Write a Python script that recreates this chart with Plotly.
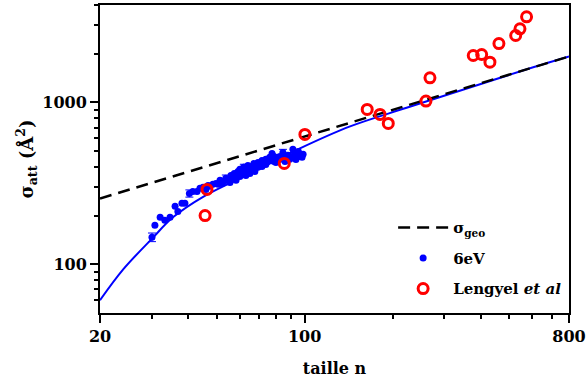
import math
import plotly.graph_objects as go

# fitted curve
fit_n = [20, 24, 30, 35.5, 45.3, 65, 96.4, 143, 223, 367, 560, 800]
fit_s = [60, 93, 143, 195, 263, 364, 520, 711, 927, 1238, 1580, 1923]

# geometric cross-section line
geo_n = [20, 800]
geo_s = [255, 1923]

# 6 eV measurements
n_6ev = [30.8, 32.1, 33.3, 34.7, 36.1, 36.9, 38.1, 39.0, 41.5, 42.9, 43.9, 45.0,
         47.5, 48.6, 49.8, 51.4, 53.0, 56.0, 56.5, 57.5, 58.3, 59.2, 60.1, 61.0,
         62.0, 63.0, 64.0, 65.0, 66.1, 67.1, 68.2, 69.3, 70.4, 71.5, 72.6, 73.7,
         74.9, 76.0, 77.4, 77.4, 78.6, 79.8, 81.0, 82.4, 86.3, 87.7, 89.0, 91.2,
         92.7, 94.0, 96.4, 98.0,
         46.0, 46.8, 50.6, 52.2, 55.6, 58.3, 60.1, 63.0, 65.0, 67.6, 69.3, 71.5,
         73.7, 78.6, 82.4, 85.7, 90.5, 95.2, 93.4, 98.8]
s_6ev = [174, 195, 187, 195, 228, 212, 238, 238, 282, 282, 295, 299,
         303, 312, 316, 330, 325, 354, 340, 364, 354, 375, 386, 370,
         397, 380, 408, 391, 402, 420, 408, 426, 408, 438, 420, 445,
         432, 458, 438, 484, 464, 426, 458, 445, 458, 471, 445, 513,
         478, 464, 464, 458,
         290, 307, 312, 316, 320, 330, 349, 354, 364, 375, 397, 402,
         414, 432, 464, 432, 464, 498, 444, 478]

# 6 eV points drawn with error bars
n_err = [30.1, 40.4, 53.8, 62.0, 84.3]
s_err = [147, 274, 340, 397, 491]
e_err = [9, 14, 16, 18, 22]

# Lengyel et al
n_len = [45.7, 46.4, 85.2, 100.2, 163.6, 180.9, 193.1, 259.7, 268, 376.7,
         402.5, 429.5, 461, 526, 544, 573]
s_len = [200, 290, 420, 634, 906, 843, 742, 1019, 1420, 1950,
         1978, 1773, 2312, 2591, 2851, 3381]

BLUE = "#0000ff"
RED = "#ff0000"
FONT = "DejaVu Serif"

fig = go.Figure()
fig.add_scatter(x=fit_n, y=fit_s, mode="lines", line=dict(color=BLUE, width=2, shape="spline"),
                showlegend=False)
fig.add_scatter(x=geo_n, y=geo_s, mode="lines", name="σ<sub>geo</sub>", legendgroup="a",
                line=dict(color="black", width=2.5, dash="12px,7px"))
fig.add_scatter(x=n_err, y=s_err, mode="markers", showlegend=False, legendgroup="b",
                marker=dict(color=BLUE, size=7),
                error_y=dict(type="data", array=e_err, color=BLUE, thickness=1, width=4))
fig.add_scatter(x=n_6ev, y=s_6ev, mode="markers", name="6eV", legendgroup="b",
                marker=dict(color=BLUE, size=7))
fig.add_scatter(x=n_len, y=s_len, mode="markers", name="Lengyel <i>et al</i>", legendgroup="c",
                marker=dict(symbol="circle-open", color=RED, size=10, line=dict(width=3, color=RED)))

axis_common = dict(showgrid=False, zeroline=False, ticks="outside", ticklen=8, tickwidth=2,
                   tickcolor="black", linecolor="black", linewidth=2, mirror=True, automargin=False,
                   tickfont=dict(family=FONT, size=16, color="black", weight="bold"))

fig.update_xaxes(type="log", range=[math.log10(20), math.log10(800)],
                 tickvals=[20, 100, 800], ticktext=["20", "100", "800"],
                 minor=dict(tickvals=[30, 40, 50, 60, 70, 80, 90, 200, 300, 400, 500, 600, 700],
                            ticks="outside", ticklen=4, tickwidth=2, tickcolor="black", showgrid=False),
                 title=dict(text="taille n", standoff=18,
                            font=dict(family=FONT, size=16, color="black", weight="bold")),
                 **axis_common)
fig.update_yaxes(type="log", range=[math.log10(50), math.log10(4000)],
                 tickvals=[100, 1000], ticktext=["100", "1000"],
                 minor=dict(tickvals=[60, 70, 80, 90, 200, 300, 400, 500, 600, 700, 800, 900,
                                      2000, 3000, 4000],
                            ticks="outside", ticklen=4, tickwidth=2, tickcolor="black", showgrid=False),
                 title=dict(text="σ<sub>att</sub> (Å<sup>2</sup>)", standoff=4,
                            font=dict(family=FONT, size=18, color="black", weight="bold")),
                 **axis_common)

fig.update_layout(
    width=586, height=380,
    margin=dict(l=100, r=17, t=5, b=67),
    plot_bgcolor="white", paper_bgcolor="white",
    legend=dict(x=0.625, y=0.33, xanchor="left", yanchor="top", bgcolor="rgba(0,0,0,0)",
                tracegroupgap=8, traceorder="grouped", itemwidth=50,
                font=dict(family=FONT, size=15, color="black", weight="bold")),
)

fig.write_html("out.html", config={"displayModeBar": False},
               post_script="document.body.style.margin='0';document.body.style.overflow='hidden';")
